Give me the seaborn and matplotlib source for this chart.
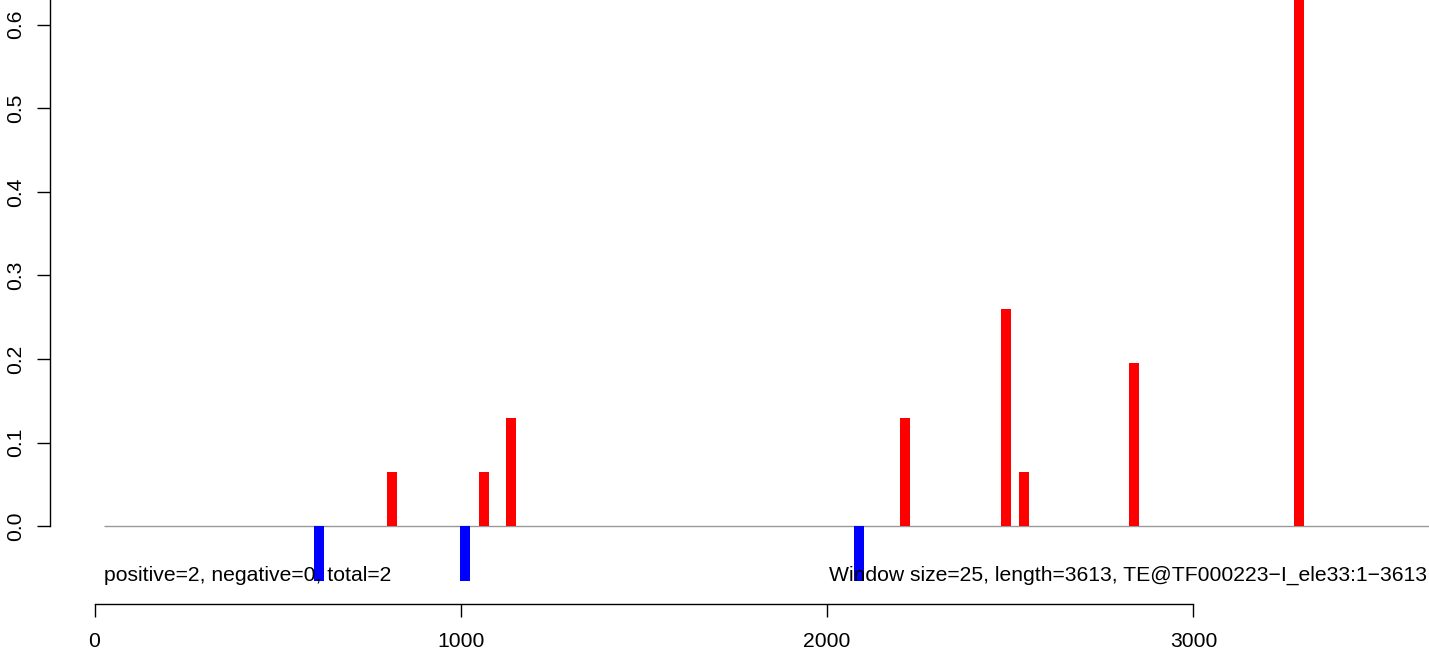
import numpy as np
import pandas as pd
import matplotlib
matplotlib.use("Agg")
import matplotlib.pyplot as plt
import seaborn as sns

# window centres and scores
pos_minus = [612.5, 1012.5, 2087.5]
val_minus = [-0.065, -0.065, -0.065]
pos_plus = [812.5, 1062.5, 1137.5, 2212.5, 2487.5, 2537.5, 2837.5, 3287.5]
val_plus = [0.065, 0.065, 0.13, 0.13, 0.26, 0.065, 0.195, 0.65]

y_ticks = [0.0, 0.1, 0.2, 0.3, 0.4, 0.5, 0.6]
x_ticks = [0, 1000, 2000, 3000]
seq_len = 3613
win = 25
left_note = "positive=2, negative=0, total=2"
right_note = "Window size=25, length=3613, TE@TF000223\u2212I_ele33:1\u22123613"

df = pd.DataFrame({
    "pos": pos_minus + pos_plus,
    "value": val_minus + val_plus,
    "strand": ["minus"] * len(pos_minus) + ["plus"] * len(pos_plus),
})

sns.set_style("ticks")
plt.rcParams["font.family"] = ["Liberation Sans", "DejaVu Sans"]
fs = 15.2

fig = plt.figure(figsize=(14.29, 6.52), dpi=100)
ax = fig.add_axes([0, 0, 1, 1])

ax.hlines(0, win, seq_len + 40, color="#999999", lw=1.0, zorder=1)

sns.barplot(data=df, x="pos", y="value", hue="strand",
            palette={"plus": "#FF0000", "minus": "#0000FF"},
            native_scale=True, dodge=False, legend=False, errorbar=None,
            saturation=1, linewidth=0, ax=ax, zorder=2)

# bars as wide as R's thick 'h' lines (~27 units)
bw = 27
for p in ax.patches:
    c = p.get_x() + p.get_width() / 2
    p.set_x(c - bw / 2)
    p.set_width(bw)

ax.set_xlim(-258, 3643)
ax.set_ylim(-0.1504, 0.6295)
ax.set_xlabel("")
ax.set_ylabel("")

# R style detached axes
ax.spines["top"].set_visible(False)
ax.spines["right"].set_visible(False)
ax.spines["left"].set_position(("data", -121.5))
ax.spines["left"].set_bounds(0, 0.7)
ax.spines["bottom"].set_position(("data", -0.093))
ax.spines["bottom"].set_bounds(0, 3000)
for s in ["left", "bottom"]:
    ax.spines[s].set_linewidth(1.0)
    ax.spines[s].set_color("black")

ax.set_xticks(x_ticks)
ax.set_xticklabels([str(t) for t in x_ticks])
ax.set_yticks(y_ticks)
ax.set_yticklabels([f"{t:.1f}" for t in y_ticks])
ax.tick_params(axis="both", direction="out", length=9.1, width=1.0,
               color="black", labelsize=fs, labelcolor="black")
ax.tick_params(axis="x", pad=11)
ax.tick_params(axis="y", pad=9)
plt.setp(ax.get_yticklabels(), rotation=90, va="center")

ax.text(win, -0.065, left_note, fontsize=fs, ha="left", va="baseline", color="black", zorder=3)
ax.text(2006, -0.065, right_note, fontsize=fs, ha="left", va="baseline", color="black", zorder=3)

fig.savefig("out.png", dpi=100)
